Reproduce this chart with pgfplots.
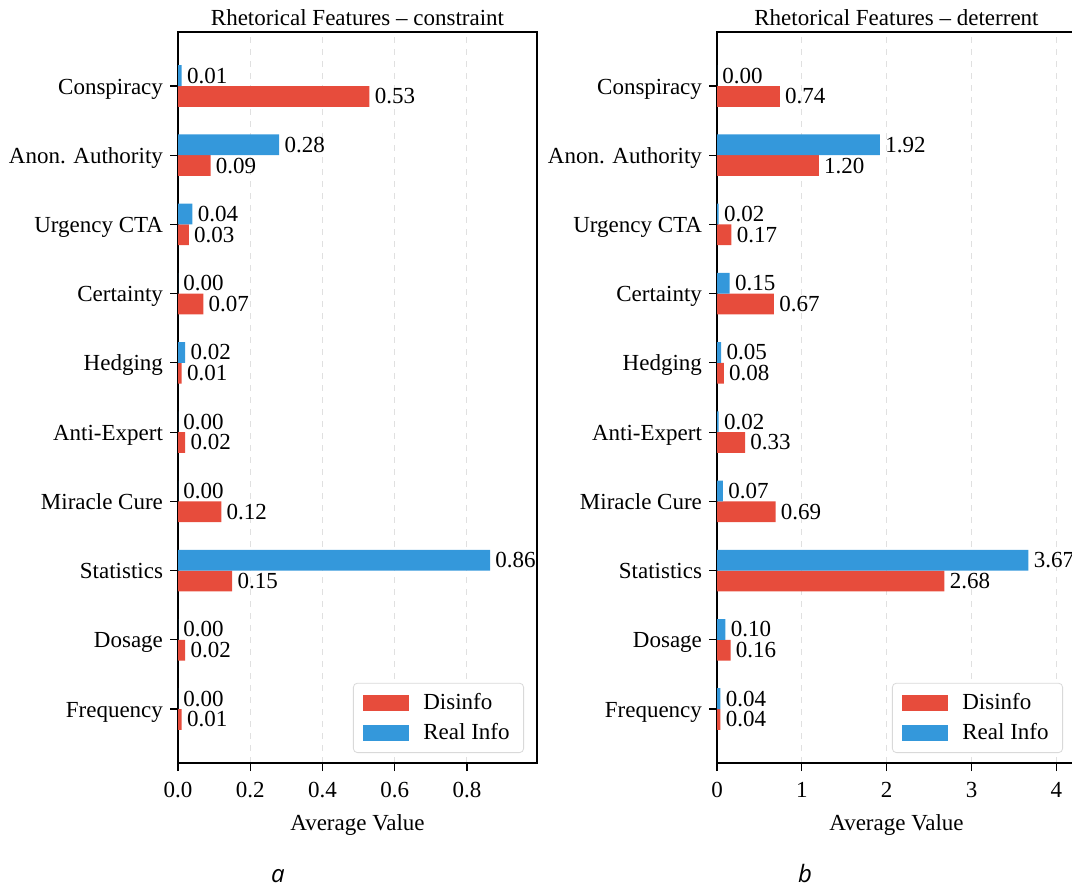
\documentclass[border=0pt]{standalone}
\usepackage{fontspec}
\setmainfont{Liberation Serif}
\newfontfamily\capfont{Open Sans}
\usepackage{pgfplots}
\usepackage{pgfplotstable}
\pgfplotsset{compat=1.18}
\definecolor{disred}{RGB}{231,76,60}
\definecolor{realblue}{RGB}{52,152,219}

\pgfplotstableread{
pos dis real
9 0.53 0.01
8 0.09 0.28
7 0.03 0.04
6 0.07 0.00
5 0.01 0.02
4 0.02 0.00
3 0.12 0.00
2 0.15 0.864
1 0.02 0.00
0 0.01 0.00
}\constrainttab

\pgfplotstableread{
pos dis real
9 0.74 0.00
8 1.20 1.92
7 0.17 0.02
6 0.67 0.15
5 0.08 0.05
4 0.33 0.02
3 0.69 0.07
2 2.68 3.67
1 0.16 0.10
0 0.04 0.04
}\deterrenttab

\newcommand{\fs}{\fontsize{11.5}{13.8}\selectfont}

\pgfplotsset{
  rfstyle/.style={
    scale only axis, width=179.5pt, height=365.5pt,
    anchor=south west,
    xbar, bar width=0.3,
    ymin=-0.78, ymax=9.78, xmin=0,
    ytick={0,...,9},
    yticklabels={Frequency,Dosage,Statistics,Miracle Cure,Anti-Expert,Hedging,Certainty,Urgency CTA,Anon. Authority,Conspiracy},
    tick align=outside, xtick pos=bottom, ytick pos=left,
    major tick length=4pt,
    tick style={black, line width=0.6pt},
    axis line style={black, line width=0.7pt},
    xmajorgrids, grid style={dashed, black!12, line width=0.5pt},
    scaled ticks=false,
    /pgf/number format/assume math mode=true,
    tick label style={font=\fs},
    yticklabel style={anchor=base east, yshift=-4pt},
    xticklabel style={yshift=-2pt},
    every axis x label/.style={at={(0.5,0)}, anchor=base, yshift=-33.5pt, font=\fs},
    xlabel={Average Value},
    every axis title/.style={at={(0.5,1)}, anchor=base, inner sep=0pt, yshift=3.5pt, font=\fs},
    point meta=x,
    nodes near coords={\pgfmathprintnumber[fixed,fixed zerofill,precision=2]{\pgfplotspointmeta}},
    every node near coord/.append style={anchor=west, inner sep=0.5pt, xshift=2pt, font=\fs, black},
    legend cell align=left,
    legend style={at={(1,0)}, anchor=south east, xshift=-6.5pt, yshift=5pt,
      draw=black!15, rounded corners=2pt, font=\fs, inner xsep=5pt, inner ysep=3pt,
      row sep=1.5pt,
      /tikz/every odd column/.append style={column sep=5pt}},
  },
  barleg/.style={legend image code/.code={\fill[##1, sharp corners] (0pt,-4pt) rectangle (23pt,4pt);}},
}

\begin{document}
\begin{tikzpicture}
\path[use as bounding box] (0,0) rectangle (536pt,-444.5pt);
\clip (0,0) rectangle (536pt,-444.5pt);
\coordinate (A) at (89pt,-381.5pt);
\coordinate (B) at (358.5pt,-381.5pt);

\begin{axis}[rfstyle, at={(A)}, xmax=0.994,
  xtick={0,0.2,0.4,0.6,0.8},
  xticklabel style={/pgf/number format/.cd, fixed, fixed zerofill, precision=1},
  title={Rhetorical Features -- constraint}]
\addplot[fill=disred, draw=none, bar shift=-0.15, barleg] table[x=dis, y=pos] {\constrainttab};
\addplot[fill=realblue, draw=none, bar shift=0.15, barleg] table[x=real, y=pos] {\constrainttab};
\legend{Disinfo, Real Info}
\end{axis}

\begin{axis}[rfstyle, at={(B)}, xmax=4.23,
  xtick={0,1,2,3,4},
  title={Rhetorical Features -- deterrent}]
\addplot[fill=disred, draw=none, bar shift=-0.15, barleg] table[x=dis, y=pos] {\deterrenttab};
\addplot[fill=realblue, draw=none, bar shift=0.15, barleg] table[x=real, y=pos] {\deterrenttab};
\legend{Disinfo, Real Info}
\end{axis}

\node[anchor=base, font=\capfont\itshape\fontsize{12}{14}\selectfont, inner sep=0pt] at (139pt,-441pt) {a};
\node[anchor=base, font=\capfont\itshape\fontsize{12}{14}\selectfont, inner sep=0pt] at (402.5pt,-441pt) {b};
\end{tikzpicture}
\end{document}
